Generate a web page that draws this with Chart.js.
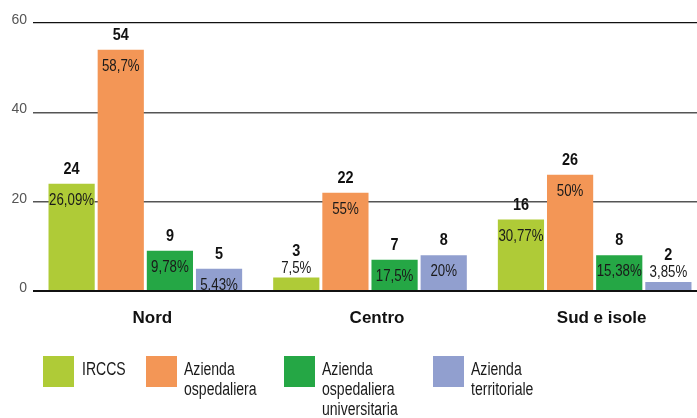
<!DOCTYPE html>
<html><head><meta charset="utf-8">
<script src="https://cdn.jsdelivr.net/npm/chart.js@4"></script>
<style>
html,body{margin:0;padding:0;overflow:hidden;background:#fff;width:697px;height:418px}
#wrap{position:relative;width:707px;height:418px}
</style></head>
<body><div id="wrap"><canvas id="c" width="707" height="418"></canvas></div>
<script>
const categories = ['Nord', 'Centro', 'Sud e isole'];
const seriesNames = ['IRCCS', 'Azienda ospedaliera', 'Azienda ospedaliera universitaria', 'Azienda territoriale'];
const irccs = [24, 3, 16];
const aziendaOspedaliera = [54, 22, 26];
const aziendaOspUniversitaria = [9, 7, 8];
const aziendaTerritoriale = [5, 8, 2];
const pctIrccs = ['26,09%', '7,5%', '30,77%'];
const pctAziendaOspedaliera = ['58,7%', '55%', '50%'];
const pctAziendaOspUniversitaria = ['9,78%', '17,5%', '15,38%'];
const pctAziendaTerritoriale = ['5,43%', '20%', '3,85%'];
const yTicks = [0, 20, 40, 60];

const colors = ['#afcb37', '#f39656', '#25a745', '#919fcf'];
const FONT = "'Liberation Sans', Arial, sans-serif";
const values = [irccs, aziendaOspedaliera, aziendaOspUniversitaria, aziendaTerritoriale];
const pcts = [pctIrccs, pctAziendaOspedaliera, pctAziendaOspUniversitaria, pctAziendaTerritoriale];

function condensedText(ctx, text, x, y, sx) {
  ctx.save();
  ctx.translate(x, y);
  ctx.scale(sx, 1);
  ctx.fillText(text, 0, 0);
  ctx.restore();
}

const labelPlugin = {
  id: 'barLabels',
  afterDatasetsDraw(chart) {
    const ctx = chart.ctx;
    ctx.save();
    ctx.textAlign = 'center';
    ctx.textBaseline = 'alphabetic';
    chart.data.datasets.forEach((ds, i) => {
      const meta = chart.getDatasetMeta(i);
      meta.data.forEach((bar, j) => {
        const h = bar.base - bar.y;
        const pct = pcts[i][j];
        const val = String(ds.data[j]);
        let pctY, valY;
        if (h >= 18) { pctY = bar.y + 21; valY = bar.y - 10; }
        else { pctY = bar.y - 5; valY = bar.y - 22; }
        ctx.fillStyle = '#1a1a1a';
        ctx.font = '16px ' + FONT;
        condensedText(ctx, pct, bar.x, pctY, 0.83);
        ctx.fillStyle = '#111';
        ctx.font = 'bold 17px ' + FONT;
        condensedText(ctx, val, bar.x, valY, 0.85);
      });
    });
    ctx.restore();
  }
};

const legendPlugin = {
  id: 'customLegend',
  afterDraw(chart) {
    const ctx = chart.ctx;
    const squareX = [43, 146, 284, 433];
    const textX = [82, 184, 322, 471];
    ctx.save();
    ctx.font = '18px ' + FONT;
    ctx.textAlign = 'left';
    ctx.textBaseline = 'alphabetic';
    chart.data.datasets.forEach((ds, i) => {
      ctx.fillStyle = ds.backgroundColor;
      ctx.fillRect(squareX[i], 356, 31, 31);
      ctx.fillStyle = '#1a1a1a';
      ds.label.split(' ').forEach((line, k) => {
        condensedText(ctx, line, textX[i], 375 + k * 20, 0.78);
      });
    });
    ctx.restore();
  }
};

new Chart(document.getElementById('c'), {
  type: 'bar',
  data: {
    labels: categories,
    datasets: seriesNames.map((name, i) => ({
      label: name,
      data: values[i],
      backgroundColor: colors[i],
      borderWidth: 0,
      categoryPercentage: 0.875,
      barPercentage: 0.94
    }))
  },
  options: {
    responsive: false,
    animation: false,
    layout: { padding: { top: 23, right: 0, bottom: 0, left: 0 } },
    plugins: { legend: { display: false }, tooltip: { enabled: false } },
    scales: {
      x: {
        offset: true,
        grid: { display: false, drawTicks: false },
        border: { display: false },
        ticks: {
          color: '#111',
          font: { family: FONT, size: 17, weight: 'bold' },
          padding: 17,
          labelOffset: 7,
          maxRotation: 0
        },
        afterFit(scale) { scale.height = 127; }
      },
      y: {
        min: 0, max: 60,
        afterBuildTicks(scale) { scale.ticks = yTicks.map(v => ({ value: v })); },
        grid: {
          drawTicks: false,
          color: c => (c.tick.value === 0 || c.tick.value === 60) ? '#111' : '#555',
          lineWidth: c => c.tick.value === 0 ? 2 : (c.tick.value === 60 ? 1.2 : 1.5)
        },
        border: { display: false },
        ticks: {
          color: '#555',
          font: { family: FONT, size: 14 },
          padding: 6,
          labelOffset: -3
        },
        afterFit(scale) { scale.width = 33; }
      }
    }
  },
  plugins: [labelPlugin, legendPlugin]
});
</script>
</body></html>
